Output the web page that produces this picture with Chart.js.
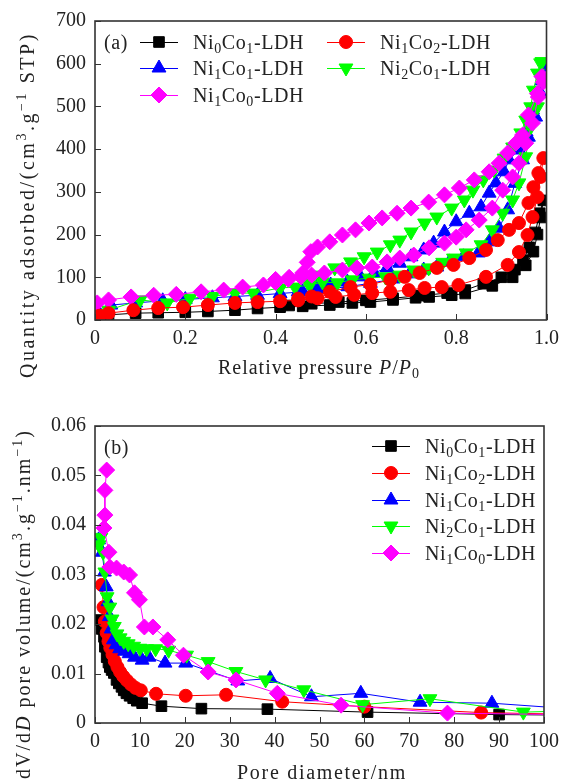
<!DOCTYPE html>
<html>
<head>
<meta charset="utf-8">
<script src="https://cdn.jsdelivr.net/npm/chart.js@4.4.0/dist/chart.umd.min.js"></script>
<style>
  html, body { margin: 0; padding: 0; background: #fff; }
  #wrap { position: relative; width: 566px; height: 782px; }
  canvas { position: absolute; left: 0; }
  #chartA { top: 0; }
  #chartB { top: 391px; }
</style>
</head>
<body>
<div id="wrap">
  <canvas id="chartA" width="566" height="391"></canvas>
  <canvas id="chartB" width="566" height="391"></canvas>
</div>
<script>
// series
const seriesNames = ['Ni0Co1-LDH', 'Ni1Co2-LDH', 'Ni1Co1-LDH', 'Ni2Co1-LDH', 'Ni1Co0-LDH'];

// (a) isotherms: adsorption branch then desorption branch (P/P0, cm3/g STP)
const pA0 = [0.005, 0.03, 0.09, 0.14, 0.20, 0.25, 0.31, 0.36, 0.41, 0.46, 0.52, 0.57, 0.61, 0.66, 0.71, 0.74, 0.79, 0.82, 0.88, 0.925, 0.954, 0.971, 0.98, 0.987, 0.993,
             0.985, 0.975, 0.962, 0.948, 0.93, 0.90, 0.86, 0.82, 0.78, 0.72, 0.66, 0.60, 0.54, 0.48, 0.43];
const qA0 = [5, 12, 16, 17, 18, 20, 23, 27, 30, 32, 35, 40, 42, 47, 52, 54, 58, 62, 80, 100, 128, 160, 200, 240, 280,
             250, 205, 170, 140, 118, 100, 85, 70, 63, 57, 51, 46, 42, 38, 34];

const pA1 = [0.01, 0.03, 0.085, 0.14, 0.195, 0.25, 0.31, 0.36, 0.41, 0.45, 0.493, 0.533, 0.574, 0.614, 0.654, 0.695, 0.73, 0.768, 0.805, 0.866, 0.914, 0.939, 0.958, 0.969, 0.98, 0.987, 0.993,
             0.982, 0.971, 0.96, 0.939, 0.917, 0.892, 0.866, 0.829, 0.794, 0.757, 0.719, 0.686, 0.654, 0.61, 0.566, 0.52, 0.48, 0.45];
const qA1 = [10, 16, 23, 28, 30, 35, 40, 42, 44, 46, 51, 54, 59, 63, 66, 70, 75, 77, 82, 101, 129, 159, 199, 241, 288, 335, 379,
             344, 311, 274, 227, 211, 187, 164, 145, 129, 122, 110, 101, 94, 83, 77, 66, 55, 50];

const pA2 = [0.01, 0.035, 0.09, 0.15, 0.20, 0.26, 0.31, 0.36, 0.41, 0.46, 0.51, 0.56, 0.61, 0.66, 0.697, 0.728, 0.757, 0.785, 0.816, 0.849, 0.873, 0.895, 0.914, 0.93, 0.947, 0.96, 0.976, 0.987, 0.996,
             0.99, 0.969, 0.955, 0.939, 0.917, 0.906, 0.888, 0.873, 0.855, 0.829, 0.80, 0.774, 0.75, 0.728, 0.70, 0.675, 0.647, 0.618, 0.588, 0.559, 0.522, 0.49, 0.45];
const qA2 = [15, 35, 40, 45, 48, 52, 55, 58, 62, 66, 72, 78, 86, 96, 108, 117, 124, 136, 148, 157, 183, 215, 258, 320, 375, 428, 475, 531, 592,
             560, 492, 440, 398, 375, 347, 321, 297, 265, 250, 230, 206, 180, 164, 148, 133, 122, 110, 101, 89, 82, 75, 66];

const pA3 = [0.01, 0.03, 0.10, 0.16, 0.21, 0.26, 0.31, 0.35, 0.41, 0.443, 0.476, 0.504, 0.537, 0.57, 0.607, 0.643, 0.675, 0.706, 0.739, 0.77, 0.794, 0.822, 0.855, 0.88, 0.903, 0.925, 0.939, 0.954, 0.965, 0.98, 0.99,
             0.987, 0.98, 0.971, 0.965, 0.954, 0.943, 0.925, 0.906, 0.884, 0.86, 0.837, 0.818, 0.79, 0.757, 0.73, 0.70, 0.675, 0.654, 0.625, 0.596, 0.566, 0.531, 0.50, 0.47];
const qA3 = [15, 23, 47, 40, 51, 55, 63, 63, 75, 77, 82, 89, 87, 94, 98, 101, 105, 117, 122, 135, 145, 157, 176, 211, 250, 281, 321, 382, 452, 499, 605,
             602, 578, 538, 499, 468, 438, 405, 379, 351, 328, 304, 281, 262, 241, 227, 206, 187, 176, 159, 148, 136, 122, 105, 90];

const pA4 = [0.005, 0.03, 0.08, 0.13, 0.18, 0.235, 0.285, 0.327, 0.373, 0.40, 0.428, 0.456, 0.48, 0.508, 0.548, 0.58, 0.614, 0.647, 0.675, 0.706, 0.74, 0.774, 0.80, 0.822, 0.851, 0.88, 0.903, 0.925, 0.939, 0.954, 0.969, 0.982, 0.993,
             0.99, 0.98, 0.96, 0.947, 0.932, 0.914, 0.895, 0.873, 0.84, 0.807, 0.774, 0.739, 0.70, 0.669, 0.636, 0.607, 0.577, 0.548, 0.52, 0.493, 0.478, 0.47, 0.46, 0.43, 0.40];
const qA4 = [40, 47, 54, 58, 60, 66, 70, 77, 82, 88, 95, 101, 105, 110, 117, 122, 124, 136, 145, 152, 169, 180, 194, 211, 234, 262, 304, 335, 367, 414, 461, 522, 557,
             570, 530, 480, 433, 414, 391, 367, 347, 328, 309, 293, 276, 262, 250, 239, 227, 211, 199, 183, 171, 160, 135, 110, 100, 95];

// (b) pore size distribution (nm, cm3/g/nm)
const dB0 = [1.1, 1.5, 2.0, 2.2, 2.6, 3.0, 3.3, 3.7, 4.2, 4.8, 5.3, 5.9, 6.4, 7.0, 7.7, 8.5, 9.3, 10.5, 14.8, 23.7, 38.4, 60.7, 90, 104];
const vB0 = [0.0208, 0.019, 0.0174, 0.0154, 0.0133, 0.0122, 0.0113, 0.0107, 0.0101, 0.0087, 0.008, 0.0073, 0.0066, 0.006, 0.0055, 0.005, 0.0045, 0.0040, 0.0034, 0.0029, 0.0028, 0.0022, 0.0017, 0.0016];

const dB1 = [1.5, 1.9, 2.2, 2.6, 3.0, 3.4, 3.9, 4.4, 5.0, 5.6, 6.3, 7.1, 8.0, 9.0, 10.2, 13.6, 20.2, 29.2, 41.7, 60, 86, 104];
const vB1 = [0.0279, 0.0234, 0.0205, 0.0182, 0.0165, 0.0152, 0.0138, 0.0125, 0.0113, 0.0103, 0.0094, 0.0086, 0.0078, 0.0071, 0.0066, 0.0059, 0.0055, 0.0057, 0.0043, 0.0033, 0.0021, 0.0018];

const dB2 = [0.8, 1.6, 2.1, 2.5, 2.9, 3.2, 3.6, 4.1, 4.7, 5.5, 6.6, 7.6, 8.8, 10.5, 12, 15.6, 20.2, 31.8, 39, 48.2, 59.2, 72.4, 88.4, 104];
const vB2 = [0.037, 0.0345, 0.0305, 0.0275, 0.0245, 0.0215, 0.019, 0.0168, 0.0158, 0.015, 0.0145, 0.014, 0.0133, 0.0127, 0.0133, 0.0121, 0.0121, 0.0085, 0.009, 0.0053, 0.006, 0.0042, 0.004, 0.003];

const dB3 = [0.9, 1.3, 1.8, 2.2, 2.7, 3.3, 3.8, 4.3, 4.9, 5.6, 6.4, 7.4, 8.6, 10, 11.5, 13.5, 16.4, 20.4, 25.2, 31.4, 38, 46.5, 59.6, 74.6, 95.4, 104];
const vB3 = [0.036, 0.0375, 0.0345, 0.0305, 0.0255, 0.0234, 0.021, 0.0195, 0.018, 0.0172, 0.0165, 0.016, 0.0155, 0.0151, 0.015, 0.015, 0.0147, 0.0137, 0.0124, 0.0104, 0.0087, 0.0067, 0.0037, 0.0049, 0.0022, 0.0024];

const dB4 = [2.6, 2.2, 2.2, 2.0, 3.1, 3.3, 4.8, 6.4, 7.7, 8.8, 9.9, 11, 12.9, 16.2, 19.7, 25.2, 31.4, 40.6, 54.8, 78.5, 104];
const vB4 = [0.0511, 0.047, 0.042, 0.0394, 0.0345, 0.0315, 0.0313, 0.0305, 0.0299, 0.0263, 0.0249, 0.0194, 0.0194, 0.0168, 0.0137, 0.0103, 0.0087, 0.006, 0.0036, 0.002, 0.0017];

// tick labels
const xTicksA = ['0', '0.2', '0.4', '0.6', '0.8', '1.0'];
const yTicksA = ['0', '100', '200', '300', '400', '500', '600', '700'];
const xTicksB = ['0', '10', '20', '30', '40', '50', '60', '70', '80', '90', '100'];
const yTicksB = ['0', '0.01', '0.02', '0.03', '0.04', '0.05', '0.06'];

// styles
const seriesColors = ['#000000', '#ff0000', '#0000ff', '#00ff00', '#ff00ff'];
const markerStyles = [
    { pointStyle: 'rect', radius: 7.5, rotation: 0 },
    { pointStyle: 'circle', radius: 6.5, rotation: 0 },
    { pointStyle: 'triangle', radius: 8, rotation: 0 },
    { pointStyle: 'triangle', radius: 8, rotation: 180 },
    { pointStyle: 'rectRot', radius: 8, rotation: 0 }
];
const FONT = '"Liberation Serif", "Times New Roman", serif';
const FS = 20;

function buildDatasets(xs, ys, order) {
    return xs.map((xArr, i) => ({
        label: seriesNames[i],
        data: xArr.map((x, j) => ({ x: x, y: ys[i][j] })),
        showLine: true,
        tension: 0,
        borderColor: seriesColors[i],
        backgroundColor: seriesColors[i],
        borderWidth: 1,
        pointStyle: markerStyles[i].pointStyle,
        pointRadius: markerStyles[i].radius,
        pointRotation: markerStyles[i].rotation,
        pointBorderWidth: 1,
        pointHoverRadius: markerStyles[i].radius,
        order: order[i]
    }));
}

// text with sub/superscripts and italics
function richParts(name) {
    return name.split(/(\d)/).filter(s => s).map(s => /^\d$/.test(s) ? { t: s, s: 'sub' } : { t: s });
}

function setPartFont(ctx, p, size) {
    let fs = size, style = '';
    if (p.s === 'sub' || p.s === 'sup') fs = size * 0.7;
    if (p.s === 'it') style = 'italic ';
    ctx.font = style + fs + 'px ' + FONT;
}

// width of the text with no extra spacing, and its character count
function richMeasure(ctx, parts, size) {
    let w = 0, n = 0;
    ctx.letterSpacing = '0px';
    parts.forEach(p => { setPartFont(ctx, p, size); w += ctx.measureText(p.t).width; n += p.t.length; });
    return { w: w, n: n };
}

function drawRich(ctx, parts, x, y, size, spacing) {
    let cx = x;
    ctx.textBaseline = 'alphabetic';
    ctx.textAlign = 'left';
    parts.forEach(p => {
        setPartFont(ctx, p, size);
        ctx.letterSpacing = '0px';
        let dy = 0;
        if (p.s === 'sub') dy = size * 0.2;
        if (p.s === 'sup') dy = -size * 0.38;
        const w = ctx.measureText(p.t).width + spacing * p.t.length;
        ctx.letterSpacing = spacing + 'px';
        ctx.fillText(p.t, cx, y + dy);
        cx += w;
    });
    ctx.letterSpacing = '0px';
}

// draw text stretched to a given length, centred on (cx, cy)
function drawFitted(ctx, parts, cx, cy, len) {
    const m = richMeasure(ctx, parts, FS);
    const spacing = (len - m.w) / m.n;
    drawRich(ctx, parts, cx - len / 2, cy + 7, FS, spacing);
}

function drawMarker(ctx, i, x, y) {
    const m = markerStyles[i];
    ctx.fillStyle = seriesColors[i];
    ctx.strokeStyle = seriesColors[i];
    ctx.lineWidth = 1;
    Chart.helpers.drawPoint(ctx, { pointStyle: m.pointStyle, radius: m.radius, rotation: m.rotation, borderWidth: 1 }, x, y);
}

// frame, inward ticks, legend and axis titles
function makeDecor(cfg) {
    return {
        id: 'decor',
        afterDraw(chart) {
            const ctx = chart.ctx;
            const a = chart.chartArea;
            const sx = chart.scales.x, sy = chart.scales.y;
            ctx.save();
            ctx.strokeStyle = '#333';
            ctx.lineWidth = 1;
            sx.ticks.forEach(t => {
                const px = Math.round(sx.getPixelForValue(t.value)) + 0.5;
                ctx.beginPath(); ctx.moveTo(px, a.bottom); ctx.lineTo(px, a.bottom - 6); ctx.stroke();
            });
            sy.ticks.forEach(t => {
                const py = Math.round(sy.getPixelForValue(t.value)) + 0.5;
                ctx.beginPath(); ctx.moveTo(a.left, py); ctx.lineTo(a.left + 6, py); ctx.stroke();
            });
            ctx.lineWidth = 1.6;
            ctx.strokeRect(a.left, a.top, a.right - a.left, a.bottom - a.top);

            ctx.fillStyle = '#222';
            drawRich(ctx, [{ t: cfg.panel }], cfg.panelX, cfg.panelY + 7, FS, 0.6);

            // legend
            cfg.legend.forEach((pos, i) => {
                ctx.strokeStyle = seriesColors[i];
                ctx.lineWidth = 1;
                ctx.beginPath(); ctx.moveTo(pos[0], pos[1] + 0.5); ctx.lineTo(pos[0] + 38, pos[1] + 0.5); ctx.stroke();
                drawMarker(ctx, i, pos[0] + 19, pos[1]);
                ctx.fillStyle = '#222';
                drawRich(ctx, richParts(seriesNames[i]), pos[0] + 53, pos[1] + 7, FS, 0.6);
            });

            // axis titles
            ctx.fillStyle = '#222';
            drawFitted(ctx, cfg.xTitle, cfg.xTitlePos[0], cfg.xTitlePos[1], cfg.xTitlePos[2]);
            ctx.translate(cfg.yTitlePos[0], cfg.yTitlePos[1]);
            ctx.rotate(-Math.PI / 2);
            drawFitted(ctx, cfg.yTitle, 0, 0, cfg.yTitlePos[2]);
            ctx.restore();
        }
    };
}

function makeChart(id, datasets, xr, yr, xLabels, yLabels, axisH, padTop, decor) {
    return new Chart(document.getElementById(id), {
        type: 'scatter',
        data: { datasets: datasets },
        options: {
            responsive: false,
            animation: false,
            devicePixelRatio: 1,
            events: [],
            layout: { padding: { top: padTop, right: 15, left: 0, bottom: 0 } },
            plugins: { legend: { display: false }, tooltip: { enabled: false } },
            scales: {
                x: {
                    type: 'linear', min: xr[0], max: xr[1],
                    afterFit: s => { s.height = axisH; },
                    grid: { display: false, drawTicks: false },
                    border: { display: false },
                    ticks: {
                        stepSize: xr[2], padding: 7, color: '#222',
                        font: { family: FONT, size: FS },
                        callback: (v, i) => xLabels[i]
                    }
                },
                y: {
                    type: 'linear', min: yr[0], max: yr[1],
                    afterFit: s => { s.width = 95; },
                    grid: { display: false, drawTicks: false },
                    border: { display: false },
                    ticks: {
                        stepSize: yr[2], padding: 9, color: '#222',
                        font: { family: FONT, size: FS },
                        callback: (v, i) => yLabels[i]
                    }
                }
            }
        },
        plugins: [makeDecor(decor)]
    });
}

// (a) nitrogen isotherms
makeChart('chartA',
    buildDatasets([pA0, pA1, pA2, pA3, pA4], [qA0, qA1, qA2, qA3, qA4], [4, 0, 3, 2, 1]),
    [0, 1, 0.2], [0, 700, 100], xTicksA, yTicksA, 71, 21,
    {
        panel: '(a)', panelX: 104, panelY: 42,
        legend: [[140, 42], [327, 42], [140, 68], [327, 68], [140, 95]],
        xTitle: [{ t: 'Relative pressure ' }, { t: 'P', s: 'it' }, { t: '/' }, { t: 'P', s: 'it' }, { t: '0', s: 'sub' }],
        xTitlePos: [319, 367, 202],
        yTitle: [{ t: 'Quantity adsorbed/(cm' }, { t: '3', s: 'sup' }, { t: '.g' }, { t: '\u22121', s: 'sup' }, { t: ' STP)' }],
        yTitlePos: [27, 205, 346]
    });

// (b) pore size distribution
makeChart('chartB',
    buildDatasets([dB0, dB1, dB2, dB3, dB4], [vB0, vB1, vB2, vB3, vB4], [4, 3, 2, 1, 0]),
    [0, 100, 10], [0, 0.06, 0.01], xTicksB, yTicksB, 59, 35,
    {
        panel: '(b)', panelX: 104, panelY: 56,
        legend: [[372, 55], [372, 82], [372, 109], [372, 135], [372, 162]],
        xTitle: [{ t: 'Pore diameter/nm' }],
        xTitlePos: [322, 381, 170],
        yTitle: [{ t: 'dV/d' }, { t: 'D', s: 'it' }, { t: ' pore volume/(cm' }, { t: '3', s: 'sup' }, { t: '.g' }, { t: '\u22121', s: 'sup' }, { t: '.nm' }, { t: '\u22121', s: 'sup' }, { t: ')' }],
        yTitlePos: [23, 213, 350]
    });
</script>
</body>
</html>
